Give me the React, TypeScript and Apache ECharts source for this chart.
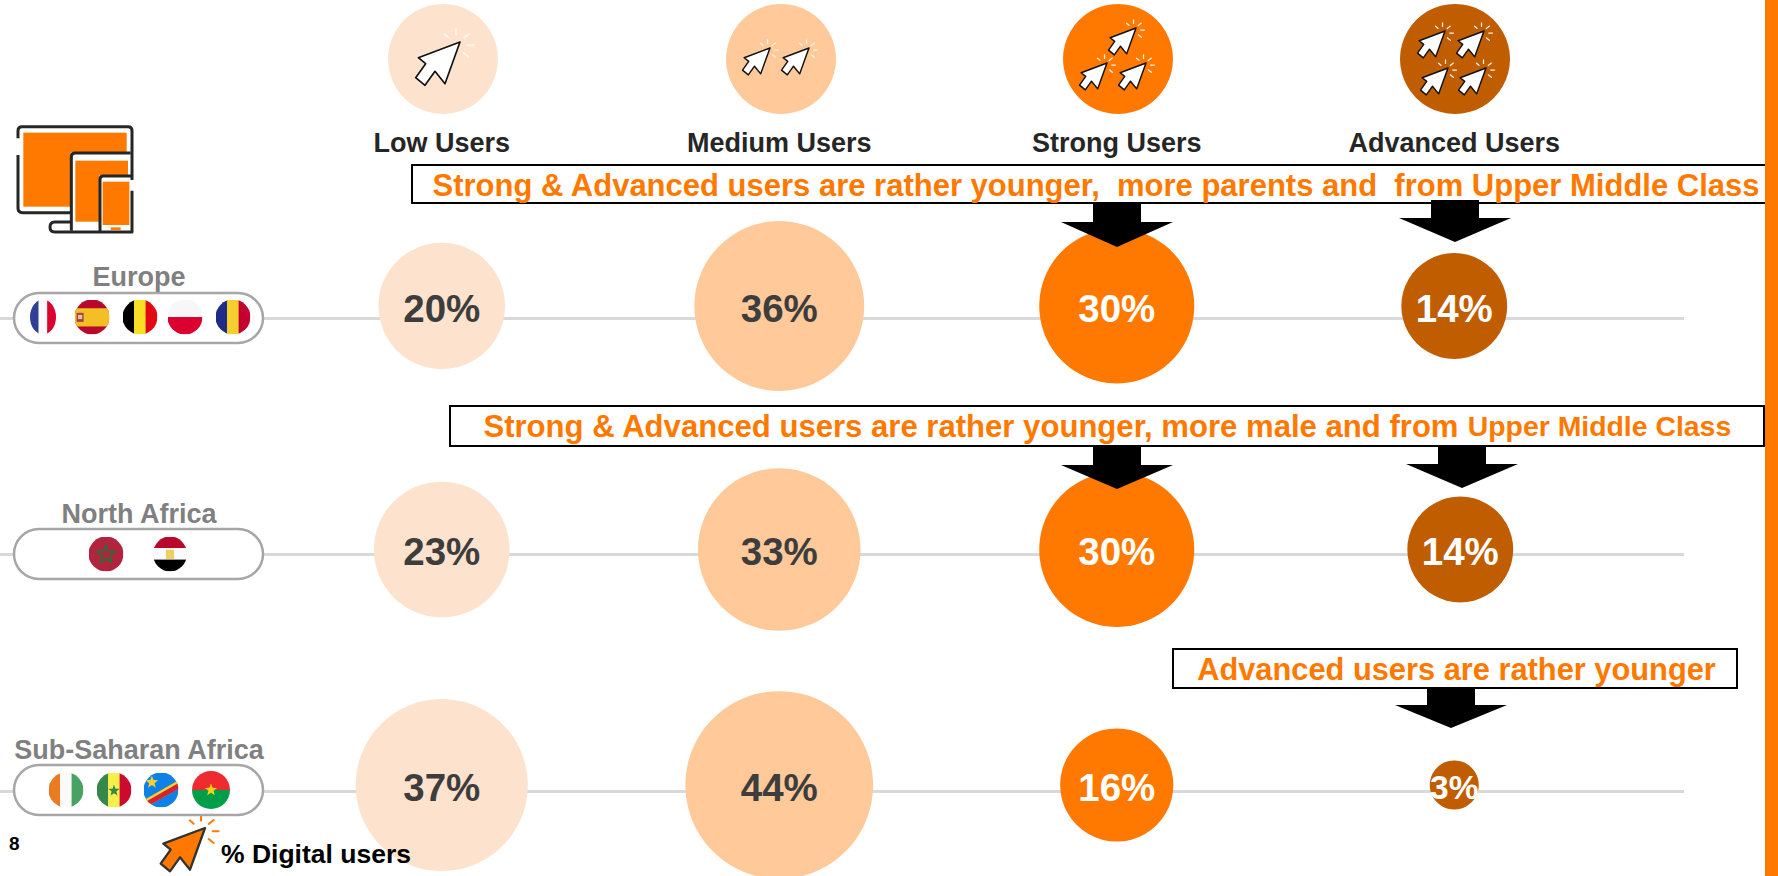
import React, { useEffect, useRef } from "react";
import * as echarts from "echarts";

const userClasses = ["Low Users", "Medium Users", "Strong Users", "Advanced Users"];
const regions = ["Europe", "North Africa", "Sub-Saharan Africa"];
const lowUsers = [20, 23, 37];
const mediumUsers = [36, 33, 44];
const strongUsers = [30, 30, 16];
const advancedUsers = [14, 14, 3];

const calloutEurope = "Strong & Advanced users are rather younger,  more parents and  from Upper Middle Class";
const calloutNorthAfricaA = "Strong & Advanced users are rather younger, more male and from ";
const calloutNorthAfricaB = "Upper Middle Class";
const calloutSubSaharan = "Advanced users are rather younger";
const pageNumber = "8";
const digitalUsers = "% Digital users";

const FONT = '"Liberation Sans", Arial, Helvetica, sans-serif';
const ORANGE = "#ff7900";
const BROWN = "#bf5d00";
const PEACH = "#ffc999";
const PALE = "#fde3cd";
const DARK = "#3d3d3d";

const rowOffset = [-12, -5, -6];
const uri = (svg: string) => "data:image/svg+xml;charset=utf-8," + encodeURIComponent(svg);

const flag = (inner: string) =>
  uri(`<svg xmlns="http://www.w3.org/2000/svg" viewBox="0 0 100 100" preserveAspectRatio="none"><defs><clipPath id="c"><circle cx="50" cy="50" r="50"/></clipPath></defs><g clip-path="url(#c)">${inner}</g></svg>`);
const vStripes = (a: string, b: string, c: string) =>
  `<rect x="0" y="0" width="34" height="100" fill="${a}"/><rect x="33" y="0" width="34" height="100" fill="${b}"/><rect x="66" y="0" width="34" height="100" fill="${c}"/>`;
const star = (cx: number, cy: number, r: number, fill: string, stroke = "none", sw = 0) => {
  const pts: string[] = [];
  for (let i = 0; i < 10; i++) {
    const a = -Math.PI / 2 + (i * Math.PI) / 5;
    const q = i % 2 ? r * 0.42 : r;
    pts.push(`${cx + q * Math.cos(a)},${cy + q * Math.sin(a)}`);
  }
  return `<polygon points="${pts.join(" ")}" fill="${fill}" stroke="${stroke}" stroke-width="${sw}"/>`;
};

const flags = [
  { x: 43, y: 317, w: 26, h: 35, src: flag(vStripes("#2f3f96", "#f9f9f9", "#dc0030")) },
  { x: 92, y: 317, w: 35, h: 35, src: flag(`<rect width="100" height="100" fill="#b8092c"/><rect y="25" width="100" height="52" fill="#f3bf25"/><rect x="6" y="38" width="20" height="26" fill="#a8404a"/><rect x="10" y="44" width="12" height="12" fill="#d7c7a0"/>`) },
  { x: 140, y: 317, w: 35, h: 35, src: flag(vStripes("#000000", "#f8de24", "#e30613")) },
  { x: 185, y: 317, w: 35, h: 35, src: flag(`<rect width="100" height="50" fill="#f7f7f7"/><rect y="50" width="100" height="50" fill="#dc0030"/>`) },
  { x: 233, y: 317, w: 35, h: 35, src: flag(vStripes("#1d2c84", "#f5cf2e", "#c4002f")) },
  { x: 106, y: 554, w: 35, h: 35, src: flag(`<rect width="100" height="100" fill="#b2233f"/>${star(50, 52, 27, "none", "#2f6b35", 5)}`) },
  { x: 170, y: 554, w: 34, h: 35, src: flag(`<rect width="100" height="34" fill="#b8092c"/><rect y="33" width="100" height="34" fill="#fafafa"/><rect y="66" width="100" height="34" fill="#000"/><rect x="38" y="38" width="24" height="26" fill="#f0cf5f"/>`) },
  { x: 66, y: 790, w: 35, h: 35, src: flag(vStripes("#e97b22", "#fafafa", "#47a264")) },
  { x: 114, y: 790, w: 35, h: 35, src: flag(vStripes("#35884a", "#f6ef4a", "#cc0a2d") + star(50, 52, 17, "#35884a")) },
  { x: 161, y: 790, w: 35, h: 35, src: flag(`<rect width="100" height="100" fill="#0f80e8"/><polygon points="-5,82 100,22 110,40 5,100" fill="#f6d22f"/><polygon points="-5,90 100,30 106,43 5,100" fill="#d5222b"/>${star(24, 28, 19, "#f6d22f")}`) },
  { x: 211, y: 790, w: 38, h: 38, src: flag(`<rect width="100" height="50" fill="#ef2b30"/><rect y="50" width="100" height="50" fill="#009e49"/>${star(50, 50, 17, "#fcd116")}`) },
];

const cursorSvg = (fill: string, stroke: string, spark: string, sw: number) =>
  uri(`<svg xmlns="http://www.w3.org/2000/svg" viewBox="100 80 190 185"><path d="M240 125L115 172L137 190L107 232L135 255L165 213L195 250Z" fill="${fill}" stroke="${stroke}" stroke-width="${sw}" stroke-linejoin="round"/><g stroke="${spark}" stroke-width="6" stroke-linecap="round"><line x1="194" y1="102" x2="206" y2="112"/><line x1="228" y1="86" x2="228" y2="103"/><line x1="266" y1="101" x2="251" y2="113"/><line x1="281" y1="135" x2="263" y2="135"/><line x1="266" y1="170" x2="251" y2="158"/></g></svg>`);

const cursor = (tx: number, ty: number, s: number, src: string, z = 6) => ({
  type: "image",
  z,
  x: tx - ((240 - 100) / 3) * s,
  y: ty - ((125 - 80) / 3) * s,
  style: { image: src, x: 0, y: 0, width: (190 / 3) * s, height: (185 / 3) * s },
});

const whiteCursor = cursorSvg("#ffffff", "#111111", "#fff4e8", 5);
const whiteCursorSmall = cursorSvg("#ffffff", "#111111", "#fff4e8", 7);
const orangeCursor = cursorSvg(ORANGE, "#333333", ORANGE, 7);

const deviceIcon = uri(`<svg xmlns="http://www.w3.org/2000/svg" viewBox="0 0 900 780">
<rect x="70" y="98" width="310" height="222" fill="${ORANGE}"/>
<rect x="212" y="157" width="180" height="233" fill="#fff"/>
<rect x="226" y="182" width="158" height="183" fill="${ORANGE}"/>
<rect x="298" y="226" width="102" height="171" fill="#fff"/>
<rect x="308" y="245" width="80" height="130" fill="${ORANGE}"/>
<rect x="332" y="382" width="30" height="8" fill="${ORANGE}"/>
<g fill="none" stroke="#262626" stroke-width="9" stroke-linejoin="round" stroke-linecap="butt">
<path d="M54 115V92Q54 80 66 80H384Q396 80 396 92V240"/>
<path d="M54 165V325Q54 338 68 338H212"/>
<path d="M212 366H164Q150 366 150 381Q150 396 164 396H396V272"/>
<path d="M214 392V170Q214 159 226 159H392"/>
<path d="M300 396V238Q300 228 310 228H396"/>
</g></svg>`);

const headerCircles = [
  { x: 443, color: PALE },
  { x: 781, color: PEACH },
  { x: 1118, color: ORANGE },
  { x: 1455, color: BROWN },
];

const arrow = (cx: number, top: number, barb: number, tip: number) => ({
  type: "polygon",
  z: 8,
  shape: {
    points: [
      [cx - 24, top],
      [cx + 24, top],
      [cx + 24, barb],
      [cx + 56, barb],
      [cx, tip],
      [cx - 56, barb],
      [cx - 24, barb],
    ],
  },
  style: { fill: "#000000" },
});

const box = (x1: number, y1: number, x2: number, y2: number) => ({
  type: "rect",
  z: 7,
  shape: { x: x1, y: y1, width: x2 - x1, height: y2 - y1 },
  style: { fill: "#ffffff", stroke: "#000000", lineWidth: 2 },
});

const calloutText = (text: string, cx: number, cy: number, size: number) => ({
  type: "text",
  z: 9,
  x: cx,
  y: cy,
  style: {
    text,
    x: 0,
    y: 0,
    fill: ORANGE,
    font: `bold ${size}px ${FONT}`,
    textAlign: "center",
    textVerticalAlign: "middle",
  },
});

const pill = (cy: number) => ({
  type: "rect",
  z: 5,
  shape: { x: 14, y: cy - 25, width: 249, height: 50, r: 25 },
  style: { fill: "#ffffff", stroke: "#a6a6a6", lineWidth: 2.5 },
});

const bubbleSeries = (name: string, idx: number, values: number[], color: string, labelColor: string) => ({
  name,
  type: "scatter",
  xAxisIndex: 0,
  yAxisIndex: 0,
  clip: false,
  z: 3,
  data: values.map((v, r) => ({
    value: [idx, r, v],
    symbolOffset: [idx === 3 && r === 1 ? 6 : 0, rowOffset[r]],
    label: v < 10 ? { fontSize: 33.5 } : undefined,
  })),
  symbol: "circle",
  symbolSize: (val: number[]) => Math.sqrt(val[2]) * 28.3,
  itemStyle: { color, opacity: 1 },
  label: {
    show: true,
    position: "inside",
    formatter: (p: any) => `${p.value[2]}%`,
    color: labelColor,
    fontFamily: FONT,
    fontWeight: "bold",
    fontSize: 38.5,
    offset: [0, 2],
  },
});

export default function App() {
  const ref = useRef<HTMLDivElement>(null);
  useEffect(() => {
    document.body.style.margin = "0";
    const chart = echarts.init(ref.current!, undefined, { renderer: "svg" });
    chart.setOption({
      animation: false,
      backgroundColor: "#ffffff",
      tooltip: { show: false },
      grid: [
        { left: 273, width: 1350, top: 318, height: 473, outerBoundsMode: "none" },
        { left: 0, width: 1684, top: 318, height: 473, outerBoundsMode: "none" },
      ],
      xAxis: [
        {
          gridIndex: 0,
          type: "category",
          position: "top",
          data: userClasses,
          axisLine: { show: false },
          axisTick: { show: false },
          splitLine: { show: false },
          axisLabel: { margin: 162, color: "#262626", fontFamily: FONT, fontWeight: "bold", fontSize: 27 },
        },
        { gridIndex: 1, type: "value", show: false },
      ],
      yAxis: [
        {
          gridIndex: 0,
          type: "category",
          inverse: true,
          boundaryGap: false,
          data: regions,
          axisLine: { show: false },
          axisTick: { show: false },
          splitLine: { show: false },
          z: 9,
          axisLabel: {
            margin: 134,
            align: "center",
            formatter: (v: string) => `{region|${v}}`,
            rich: {
              region: {
                color: "#808080",
                fontFamily: FONT,
                fontWeight: "bold",
                fontSize: 27,
                padding: [0, 0, 82, 0],
              },
            },
          },
        },
        {
          gridIndex: 1,
          type: "category",
          inverse: true,
          boundaryGap: false,
          data: regions,
          axisLine: { show: false },
          axisTick: { show: false },
          axisLabel: { show: false },
          splitLine: { show: true, lineStyle: { color: "#d9d9d9", width: 3 } },
        },
      ],
      series: [
        bubbleSeries(userClasses[0], 0, lowUsers, PALE, DARK),
        bubbleSeries(userClasses[1], 1, mediumUsers, PEACH, DARK),
        bubbleSeries(userClasses[2], 2, strongUsers, ORANGE, "#ffffff"),
        bubbleSeries(userClasses[3], 3, advancedUsers, BROWN, "#ffffff"),
      ],
      graphic: {
        elements: [
          { type: "rect", z: 10, shape: { x: 1765, y: 0, width: 13, height: 876 }, style: { fill: ORANGE } },
          ...headerCircles.map((c) => ({
            type: "circle",
            z: 5,
            shape: { cx: c.x, cy: 59, r: 55 },
            style: { fill: c.color },
          })),
          cursor(460, 42, 1, whiteCursor),
          cursor(770, 48, 0.62, whiteCursorSmall),
          cursor(809, 48, 0.62, whiteCursorSmall),
          cursor(1136, 28, 0.62, whiteCursorSmall),
          cursor(1107, 63, 0.62, whiteCursorSmall),
          cursor(1146, 63, 0.62, whiteCursorSmall),
          cursor(1445, 31, 0.62, whiteCursorSmall),
          cursor(1484, 31, 0.62, whiteCursorSmall),
          cursor(1448, 68, 0.62, whiteCursorSmall),
          cursor(1486, 68, 0.62, whiteCursorSmall),
          { type: "image", z: 5, x: 0, y: 100, style: { image: deviceIcon, x: 0, y: 0, width: 300, height: 260 } },
          cursor(205, 828, 1, orangeCursor, 4),
          pill(318),
          pill(554),
          pill(790),
          ...flags.map((f) => ({
            type: "image",
            z: 6,
            x: f.x - f.w / 2,
            y: f.y - f.h / 2,
            style: { image: f.src, x: 0, y: 0, width: f.w, height: f.h },
          })),
          box(412, 165, 1766, 203),
          calloutText(calloutEurope, 1096, 185, 31),
          box(450, 406, 1764, 446),
          {
            type: "text",
            z: 9,
            x: 1107,
            y: 426,
            style: {
              text: `{a|${calloutNorthAfricaA}}{b|${calloutNorthAfricaB}}`,
              x: 0,
              y: 0,
              textAlign: "center",
              textVerticalAlign: "middle",
              rich: {
                a: { fill: ORANGE, font: `bold 31.1px ${FONT}` },
                b: { fill: ORANGE, font: `bold 28.4px ${FONT}` },
              },
            },
          },
          box(1173, 649, 1737, 688),
          calloutText(calloutSubSaharan, 1456.5, 669, 30.8),
          arrow(1117, 203, 222, 247),
          arrow(1455, 200, 218, 242),
          arrow(1117, 446, 465, 489),
          arrow(1462, 446, 464, 488),
          arrow(1451, 687, 705, 728),
          {
            type: "text",
            z: 9,
            x: 9,
            y: 843,
            style: { text: pageNumber, x: 0, y: 0, fill: "#000000", font: `bold 19px ${FONT}`, textVerticalAlign: "middle" },
          },
          {
            type: "text",
            z: 9,
            x: 221,
            y: 854,
            style: { text: digitalUsers, x: 0, y: 0, fill: "#000000", font: `bold 26.5px ${FONT}`, textVerticalAlign: "middle" },
          },
        ],
      },
    });
    return () => chart.dispose();
  }, []);
  return <div ref={ref} style={{ width: 1778, height: 876 }} />;
}
